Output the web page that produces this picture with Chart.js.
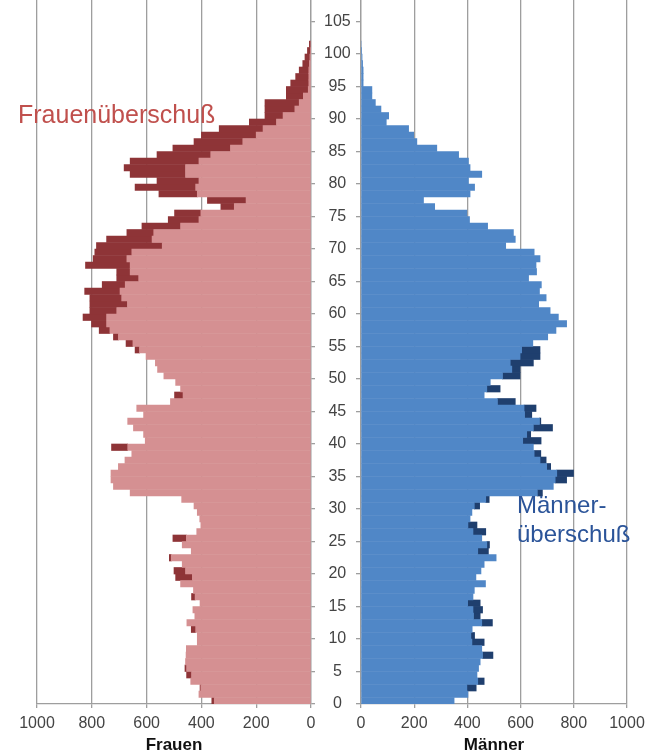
<!DOCTYPE html>
<html><head><meta charset="utf-8">
<script src="https://cdn.jsdelivr.net/npm/chart.js@4.4.1/dist/chart.umd.min.js"></script>
<style>
html,body{margin:0;padding:0;background:#fff}
body{width:649px;height:756px;overflow:hidden;position:relative;font-family:"Liberation Sans",Arial,sans-serif}
canvas{position:absolute;top:0}
#left{left:0}
#right{left:353px}
.lbl{position:absolute;white-space:nowrap;line-height:1}
</style></head><body>
<canvas id="left" width="353" height="756"></canvas>
<canvas id="right" width="296" height="756"></canvas>
<div class="lbl" style="left:18px;top:102px;font-size:25px;color:#C0504D">Frauenüberschuß</div>
<div class="lbl" style="left:517px;top:493px;font-size:24px;color:#2B5499">Männer-</div>
<div class="lbl" style="left:517px;top:522px;font-size:24px;color:#2B5499">überschuß</div>
<script>
// ages 0..101
const ages = Array.from({length: 102}, (_, i) => i);
const womenBase = [353,409,402,439,436,454,458,456,455,415, 415,421,453,424,431,405,423,429,476,433,
  458,470,510,437,470,455,417,402,406,415, 427,472,660,721,730,730,703,679,654,669,
  605,611,648,669,611,636,513,467,476,494, 537,560,568,602,626,650,703,734,746,746,
  709,670,691,697,678,629,660,660,672,654, 543,580,574,476,409,402,280,237,415,421,
  409,458,458,409,366,294,249,200,175,126, 102,59,43,28,10,8,8,8,6,4, 2,0];
const womenTotal = [362,409,405,439,454,460,458,456,455,415, 415,437,453,424,431,405,436,429,476,494,
  500,470,517,437,470,504,417,402,406,415, 427,472,660,721,730,730,703,679,654,728,
  605,611,648,669,611,636,513,498,476,494, 537,560,568,602,642,675,721,773,801,832,
  807,807,807,826,762,709,709,823,795,789, 783,746,672,617,521,498,329,378,555,642,
  562,660,682,660,562,504,427,400,335,225, 168,168,168,90,90,74,56,43,30,22, 13,6];
const menBase = [350,402,398,439,436,442,448,457,454,417, 413,418,454,423,421,401,421,426,468,432,
  451,463,508,439,473,454,421,402,410,417, 426,469,663,723,730,736,698,673,651,648,
  608,623,648,671,615,613,513,463,473,486, 532,567,561,598,604,646,702,733,773,742,
  711,668,696,671,678,630,660,658,673,651, 544,580,573,476,408,398,277,235,410,427,
  404,454,410,404,367,285,210,198,179,95, 104,75,54,41,41,8,8,8,6,4, 2,0];
const menTotal = [350,402,433,463,436,442,448,496,454,463, 427,418,494,448,457,448,421,426,468,432,
  451,463,508,479,483,454,469,436,410,417, 446,482,682,723,773,799,713,696,676,648,
  677,638,720,676,642,658,580,463,523,486, 598,598,648,673,673,646,702,733,773,742,
  711,668,696,671,678,630,660,658,673,651, 544,580,573,476,408,398,277,235,410,427,
  404,454,410,404,367,285,210,198,179,95, 104,75,54,41,41,8,8,8,6,4, 2,0];
const xTicks = [0,200,400,600,800,1000];
const yTickStep = 5;

const C = {
  wLight:'#D59092', wDark:'#8E3437', mLight:'#5087C7', mDark:'#1F3F6E',
  grid:'#9E9E9E', tick:'#444444'
};
Chart.defaults.font.family = '"Liberation Sans", Arial, sans-serif';
Chart.defaults.font.size = 16;
Chart.defaults.color = C.tick;

function baseData(arr){ return ages.map(a => ({x: arr[a], y: a + 0.5})); }
function extraData(b, t){ return ages.filter(a => t[a] > b[a]).map(a => ({x: [b[a], t[a]], y: a + 0.5})); }

function ds(data, color){
  return {data, backgroundColor: color, borderWidth: 0, barPercentage: 1, categoryPercentage: 1, grouped: false};
}

function makeOpts(side){
  const isLeft = side === 'left';
  return {
    indexAxis: 'y',
    responsive: false,
    animation: false,
    devicePixelRatio: 1,
    layout: {padding: isLeft ? {left:37, right:0, top:0, bottom:0} : {left:0, right:22, top:0, bottom:0}},
    plugins: {legend:{display:false}, tooltip:{enabled:false}},
    scales: {
      x: {
        type:'linear', min:0, max:1000, reverse:isLeft,
        afterBuildTicks: s => { s.ticks = xTicks.map(v => ({value:v})); },
        ticks:{padding:6, color:C.tick, font:{size:16}, callback: v => String(v)},
        grid:{color:C.grid, lineWidth:1.3, tickLength:4, drawTicks:true},
        border:{display:true, color:C.grid, width:1.3},
        title:{display:true, text: isLeft ? 'Frauen' : 'Männer', color:'#111', font:{size:17, weight:'bold'}, padding:{top:0,bottom:0}},
        afterFit: s => { s.height = 52; s.paddingLeft = 0; s.paddingRight = 0; }
      },
      y: {
        type:'linear', min:0, max:108.31, position: isLeft ? 'right' : 'left',
        offset:false,
        ticks:{stepSize:yTickStep, includeBounds:false, display:isLeft, padding:9, crossAlign:'center', color:C.tick, font:{size:16}, callback: v => String(v)},
        grid:{drawOnChartArea:false, drawTicks:true, tickLength:isLeft ? 4 : 5, color:C.grid, lineWidth:1.3, offset:false},
        border:{display:true, color:C.grid, width:1.3},
        afterFit: s => { s.width = isLeft ? 42 : 8; s.paddingTop = 0; s.paddingBottom = 0; }
      }
    }
  };
}

new Chart(document.getElementById('left'), {
  type:'bar',
  data:{datasets:[ds(baseData(womenBase), C.wLight), ds(extraData(womenBase, womenTotal), C.wDark)]},
  options: makeOpts('left')
});
new Chart(document.getElementById('right'), {
  type:'bar',
  data:{datasets:[ds(baseData(menBase), C.mLight), ds(extraData(menBase, menTotal), C.mDark)]},
  options: makeOpts('right')
});
</script>
</body></html>
